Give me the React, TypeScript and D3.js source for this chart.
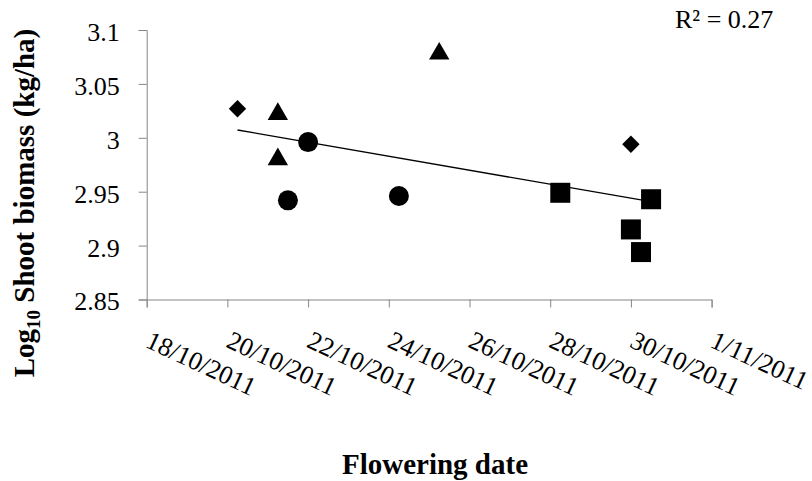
import * as React from "react";
import { useEffect, useRef } from "react";
import * as d3 from "d3";

// flowering day in October 2011 (fractions = plot means) and log10 shoot biomass
const diamondDays = [20.25, 30];
const diamondValues = [3.027, 2.994];
const triangleDays = [21.25, 21.25, 25.25];
const triangleValues = [3.022, 2.98, 3.078];
const circleDays = [22, 21.5, 24.25];
const circleValues = [2.996, 2.942, 2.946];
const squareDays = [28.25, 30.5, 30, 30.25];
const squareValues = [2.949, 2.943, 2.915, 2.894];

const xTickDays = [18, 20, 22, 24, 26, 28, 30, 32];
const yTicks = [2.85, 2.9, 2.95, 3, 3.05, 3.1];
const r2Text = "R\u00b2 = 0.27";
const xTitle = "Flowering date";

interface Point {
  day: number;
  value: number;
  shape: string;
}

const toDate = (day: number) => new Date(2011, 9, Math.floor(day), (day % 1) * 24);

const App: React.FC = () => {
  const svgRef = useRef<SVGSVGElement | null>(null);

  useEffect(() => {
    const svg = d3.select(svgRef.current);
    svg.selectAll("*").remove();

    const width = 812;
    const height = 481;
    const font = "'Liberation Serif', 'Times New Roman', serif";
    const axisColor = "#868686";

    const points: Point[] = [
      ...diamondDays.map((d, i) => ({ day: d, value: diamondValues[i], shape: "diamond" })),
      ...triangleDays.map((d, i) => ({ day: d, value: triangleValues[i], shape: "triangle" })),
      ...circleDays.map((d, i) => ({ day: d, value: circleValues[i], shape: "circle" })),
      ...squareDays.map((d, i) => ({ day: d, value: squareValues[i], shape: "square" })),
    ];

    const xScale = d3
      .scaleTime()
      .domain([toDate(18), toDate(32)])
      .range([146.7, 711.6]);

    const yScale = d3.scaleLinear().domain([2.85, 3.1]).range([299.5, 30]);

    svg.append("rect").attr("width", width).attr("height", height).attr("fill", "#fff");

    // y axis
    const yAxis = svg
      .append("g")
      .attr("transform", `translate(${xScale.range()[0]},0)`)
      .call(
        d3
          .axisLeft(yScale)
          .tickValues(yTicks)
          .tickSize(8)
          .tickPadding(19)
          .tickFormat((d) => d3.format("")(+(+d).toFixed(2)))
      );
    yAxis.selectAll("path, line").attr("stroke", axisColor);
    yAxis
      .selectAll("text")
      .attr("dy", "0.4em")
      .attr("font-family", font)
      .attr("font-size", 26)
      .attr("fill", "#000");

    // x axis
    const xAxis = svg
      .append("g")
      .attr("transform", `translate(0,${yScale.range()[0]})`)
      .call(
        d3
          .axisBottom(xScale)
          .tickValues(xTickDays.map(toDate))
          .tickSize(8)
          .tickFormat((d) => d3.timeFormat("%-d/%-m/%Y")(d as Date))
      );
    xAxis.selectAll("path, line").attr("stroke", axisColor);
    xAxis
      .selectAll("text")
      .attr("x", 0)
      .attr("y", 0)
      .attr("dy", 0)
      .attr("transform", "translate(-3,47) rotate(25)")
      .attr("text-anchor", "start")
      .attr("font-family", font)
      .attr("font-size", 26)
      .attr("fill", "#000");
    svg.selectAll(".domain").attr("stroke", axisColor);

    // linear trend over all points
    const mx = d3.mean(points, (p) => p.day) || 0;
    const my = d3.mean(points, (p) => p.value) || 0;
    const slope =
      (d3.sum(points, (p) => (p.day - mx) * (p.value - my)) || 0) /
      (d3.sum(points, (p) => (p.day - mx) ** 2) || 1);
    const [minDay, maxDay] = d3.extent(points, (p) => p.day) as [number, number];
    const trend = [minDay, maxDay].map((d) => ({ day: d, value: my + slope * (d - mx) }));

    svg
      .append("path")
      .datum(trend)
      .attr("fill", "none")
      .attr("stroke", "#000")
      .attr("stroke-width", 1.3)
      .attr(
        "d",
        d3
          .line<{ day: number; value: number }>()
          .x((d) => xScale(toDate(d.day)))
          .y((d) => yScale(d.value))
      );

    const symbols: Record<string, { type: d3.SymbolType; size: number; rotate: number }> = {
      diamond: { type: d3.symbolSquare, size: 151, rotate: 45 },
      triangle: { type: d3.symbolTriangle, size: 180, rotate: 0 },
      circle: { type: d3.symbolCircle, size: 314, rotate: 0 },
      square: { type: d3.symbolSquare, size: 400, rotate: 0 },
    };

    svg
      .append("g")
      .selectAll("path")
      .data(points)
      .join("path")
      .attr(
        "transform",
        (p) => `translate(${xScale(toDate(p.day))},${yScale(p.value)}) rotate(${symbols[p.shape].rotate})`
      )
      .attr("d", (p) => d3.symbol(symbols[p.shape].type, symbols[p.shape].size)())
      .attr("fill", "#000");

    svg
      .append("text")
      .attr("x", 675)
      .attr("y", 28)
      .attr("font-family", font)
      .attr("font-size", 26)
      .text(r2Text);

    const yTitle = svg
      .append("text")
      .attr("transform", "translate(34,203) rotate(-90)")
      .attr("text-anchor", "middle")
      .attr("font-family", font)
      .attr("font-size", 29)
      .attr("font-weight", "bold");
    yTitle.append("tspan").text("Log");
    yTitle.append("tspan").attr("font-size", 19).attr("dy", 6).text("10");
    yTitle.append("tspan").attr("dy", -6).text(" Shoot biomass (kg/ha)");

    svg
      .append("text")
      .attr("x", 435)
      .attr("y", 474)
      .attr("text-anchor", "middle")
      .attr("font-family", font)
      .attr("font-size", 29)
      .attr("font-weight", "bold")
      .text(xTitle);
  }, []);

  return (
    <svg
      ref={svgRef}
      width={812}
      height={481}
      style={{ position: "absolute", left: 0, top: 0, display: "block" }}
    ></svg>
  );
};

export default App;
